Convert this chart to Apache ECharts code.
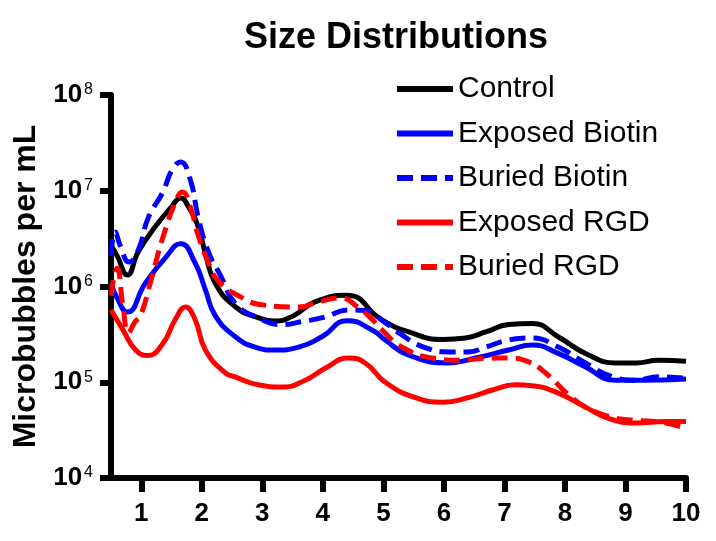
<!DOCTYPE html>
<html>
<head>
<meta charset="utf-8">
<script src="https://cdn.jsdelivr.net/npm/echarts@6/dist/echarts.min.js"></script>
<style>
html,body{margin:0;padding:0;background:#fff;}
#chart{width:716px;height:541px;}
</style>
</head>
<body>
<div id="chart"></div>
<script type="text/javascript">
	// 粒径 (um) 与 浓度 (per mL)
	var controlX = [0.5, 0.6, 0.77, 0.95, 1.23, 1.5, 1.65, 1.78, 1.94, 2.06, 2.22, 2.56, 2.94, 3.2, 3.5, 3.87, 4.4, 4.97, 5.42, 5.98, 6.36, 6.69, 7.07, 7.46, 7.9, 8.34, 8.84, 9.17, 9.55, 10];
	var controlY = [2.7e6, 2.1e6, 1.32e6, 2.3e6, 4.2e6, 6.8e6, 8.4e6, 6.8e6, 4.2e6, 2.2e6, 1.09e6, 6.1e5, 4.7e5, 4.35e5, 4.9e5, 6.9e5, 8.1e5, 4.5e5, 3.35e5, 2.8e5, 2.9e5, 3.35e5, 4.0e5, 4.1e5, 2.95e5, 2.0e5, 1.59e5, 1.59e5, 1.7e5, 1.66e5];

	var expBiotinX = [0.5, 0.6, 0.77, 1.07, 1.4, 1.65, 1.89, 2.06, 2.22, 2.55, 2.88, 3.21, 3.6, 3.99, 4.4, 4.82, 5.03, 5.41, 6.07, 6.52, 7.07, 7.46, 7.89, 8.34, 8.83, 9.28, 10];
	var expBiotinY = [1.1e6, 7.6e5, 5.4e5, 1.09e6, 2.0e6, 2.8e6, 1.76e6, 9.2e5, 5.0e5, 3.0e5, 2.33e5, 2.17e5, 2.33e5, 3.0e5, 4.4e5, 3.5e5, 2.76e5, 1.93e5, 1.59e5, 1.79e5, 2.17e5, 2.45e5, 2.0e5, 1.44e5, 1.05e5, 1.05e5, 1.08e5];

	var burBiotinX = [0.5, 0.57, 0.65, 0.8, 0.95, 1.12, 1.35, 1.51, 1.65, 1.81, 1.94, 2.11, 2.31, 2.55, 2.93, 3.33, 3.66, 4.04, 4.42, 4.7, 5.03, 5.25, 5.69, 6.14, 6.4, 6.69, 7.07, 7.46, 7.89, 8.34, 8.79, 9.17, 9.55, 10];
	var burBiotinY = [2.1e6, 3.7e6, 2.7e6, 1.8e6, 2.4e6, 5.3e6, 9.5e6, 1.65e7, 2.0e7, 1.3e7, 5.3e6, 2.3e6, 1.3e6, 6.7e5, 4.7e5, 4.0e5, 4.3e5, 4.8e5, 5.7e5, 5.6e5, 4.2e5, 3.3e5, 2.3e5, 2.07e5, 2.07e5, 2.33e5, 2.76e5, 2.9e5, 2.33e5, 1.59e5, 1.14e5, 1.05e5, 1.14e5, 1.1e5];

	var expRgdX = [0.5, 0.57, 0.7, 0.9, 1.1, 1.35, 1.56, 1.73, 1.89, 2.06, 2.39, 2.55, 2.93, 3.33, 3.71, 4.04, 4.42, 4.7, 5.03, 5.53, 5.98, 6.4, 6.8, 7.18, 7.46, 7.89, 8.34, 8.72, 9.17, 9.66, 10];
	var expRgdY = [5.7e5, 4.8e5, 3.5e5, 2.2e5, 1.9e5, 2.5e5, 4.5e5, 6.1e5, 4.5e5, 2.17e5, 1.25e5, 1.14e5, 9.4e4, 8.9e4, 1.05e5, 1.4e5, 1.79e5, 1.59e5, 1.0e5, 6.9e4, 6.2e4, 6.9e4, 8.3e4, 9.4e4, 9.2e4, 7.7e4, 5.5e4, 4.2e4, 3.75e4, 3.9e4, 3.9e4];

	var burRgdX = [0.5, 0.6, 0.7, 0.79, 0.9, 0.98, 1.15, 1.36, 1.6, 1.68, 1.81, 1.93, 2.09, 2.26, 2.64, 3.02, 3.6, 3.93, 4.29, 4.59, 4.82, 4.98, 5.31, 5.81, 6.31, 6.74, 7.07, 7.4, 7.68, 8.06, 8.34, 8.79, 9.17, 9.55, 10];
	var burRgdY = [8.0e5, 1.55e6, 6.1e5, 3.3e5, 4.3e5, 4.8e5, 1.09e6, 3.3e6, 8.6e6, 9.7e6, 6.8e6, 3.6e6, 1.9e6, 1.17e6, 7.8e5, 6.4e5, 6.1e5, 6.9e5, 7.6e5, 6.0e5, 4.5e5, 3.5e5, 2.33e5, 1.79e5, 1.7e5, 1.79e5, 1.79e5, 1.63e5, 1.25e5, 7.4e4, 5.5e4, 4.3e4, 4.0e4, 3.85e4, 3.3e4];

	var xTicks = [1, 2, 3, 4, 5, 6, 7, 8, 9, 10];
	var seriesNames = ['Control', 'Exposed Biotin', 'Buried Biotin', 'Exposed RGD', 'Buried RGD'];

	function pairs(xs, ys){
		var out = [];
		for(var i = 0; i < xs.length; i++){
			out.push([xs[i], ys[i]]);
		}
		return out;
	}

	function line(name, xs, ys, color, dashed){
		return {
			name: name,
			type: 'line',
			data: pairs(xs, ys),
			symbol: 'none',
			smooth: 0.5,
			lineStyle: {color: color, width: 5, type: dashed ? [16, 8] : 'solid'},
			itemStyle: {color: color}
		};
	}

	var chart = echarts.init(document.getElementById('chart'));
	var option = {
		backgroundColor: '#fff',
		animation: false,
		title: {
			text: 'Size Distributions',
			left: 244,
			top: 20,
			padding: 0,
			textStyle: {fontFamily: 'Liberation Sans', fontWeight: 'bold', fontSize: 36, color: '#000'}
		},
		legend: {
			data: seriesNames,
			orient: 'vertical',
			left: 394,
			top: 74,
			padding: 0,
			itemWidth: 56,
			itemHeight: 14,
			itemGap: 14.5,
			itemStyle: {opacity: 0},
			lineStyle: {width: 6},
			textStyle: {fontFamily: 'Liberation Sans', fontSize: 30, lineHeight: 30, color: '#000', padding: [0, 0, 0, 0]}
		},
		grid: {left: 111, right: 30, top: 95, bottom: 63},
		xAxis: {
			type: 'value',
			min: 0.5,
			max: 10,
			axisLine: {lineStyle: {color: '#000', width: 6}},
			axisTick: {customValues: xTicks, length: 14, lineStyle: {color: '#000', width: 6}},
			axisLabel: {customValues: xTicks, margin: 23, fontFamily: 'Liberation Sans', fontWeight: 'bold', fontSize: 26, color: '#000'},
			splitLine: {show: false}
		},
		yAxis: {
			type: 'log',
			logBase: 10,
			min: 1e4,
			max: 1e8,
			name: 'Microbubbles per mL',
			nameLocation: 'middle',
			nameRotate: 90,
			nameGap: 67,
			nameTextStyle: {fontFamily: 'Liberation Sans', fontWeight: 'bold', fontSize: 32, color: '#000'},
			axisLine: {show: true, lineStyle: {color: '#000', width: 6}},
			axisTick: {show: true, length: 11, lineStyle: {color: '#000', width: 6}},
			axisLabel: {
				margin: 18,
				formatter: function(v){
					return '{b|10}{s|' + Math.round(Math.log10(v)) + '}';
				},
				rich: {
					b: {fontFamily: 'Liberation Sans', fontWeight: 'bold', fontSize: 26, lineHeight: 26, color: '#000'},
					s: {fontFamily: 'Liberation Sans', fontSize: 16, lineHeight: 20, verticalAlign: 'top', color: '#000', padding: [0, 0, 0, 2]}
				}
			},
			splitLine: {show: false},
			minorTick: {show: false}
		},
		series: [
			line('Control', controlX, controlY, '#000000', false),
			line('Exposed Biotin', expBiotinX, expBiotinY, '#0000ff', false),
			line('Buried Biotin', burBiotinX, burBiotinY, '#0000ff', true),
			line('Exposed RGD', expRgdX, expRgdY, '#ff0000', false),
			line('Buried RGD', burRgdX, burRgdY, '#ff0000', true)
		]
	};
	chart.setOption(option);
</script>
</body>
</html>
